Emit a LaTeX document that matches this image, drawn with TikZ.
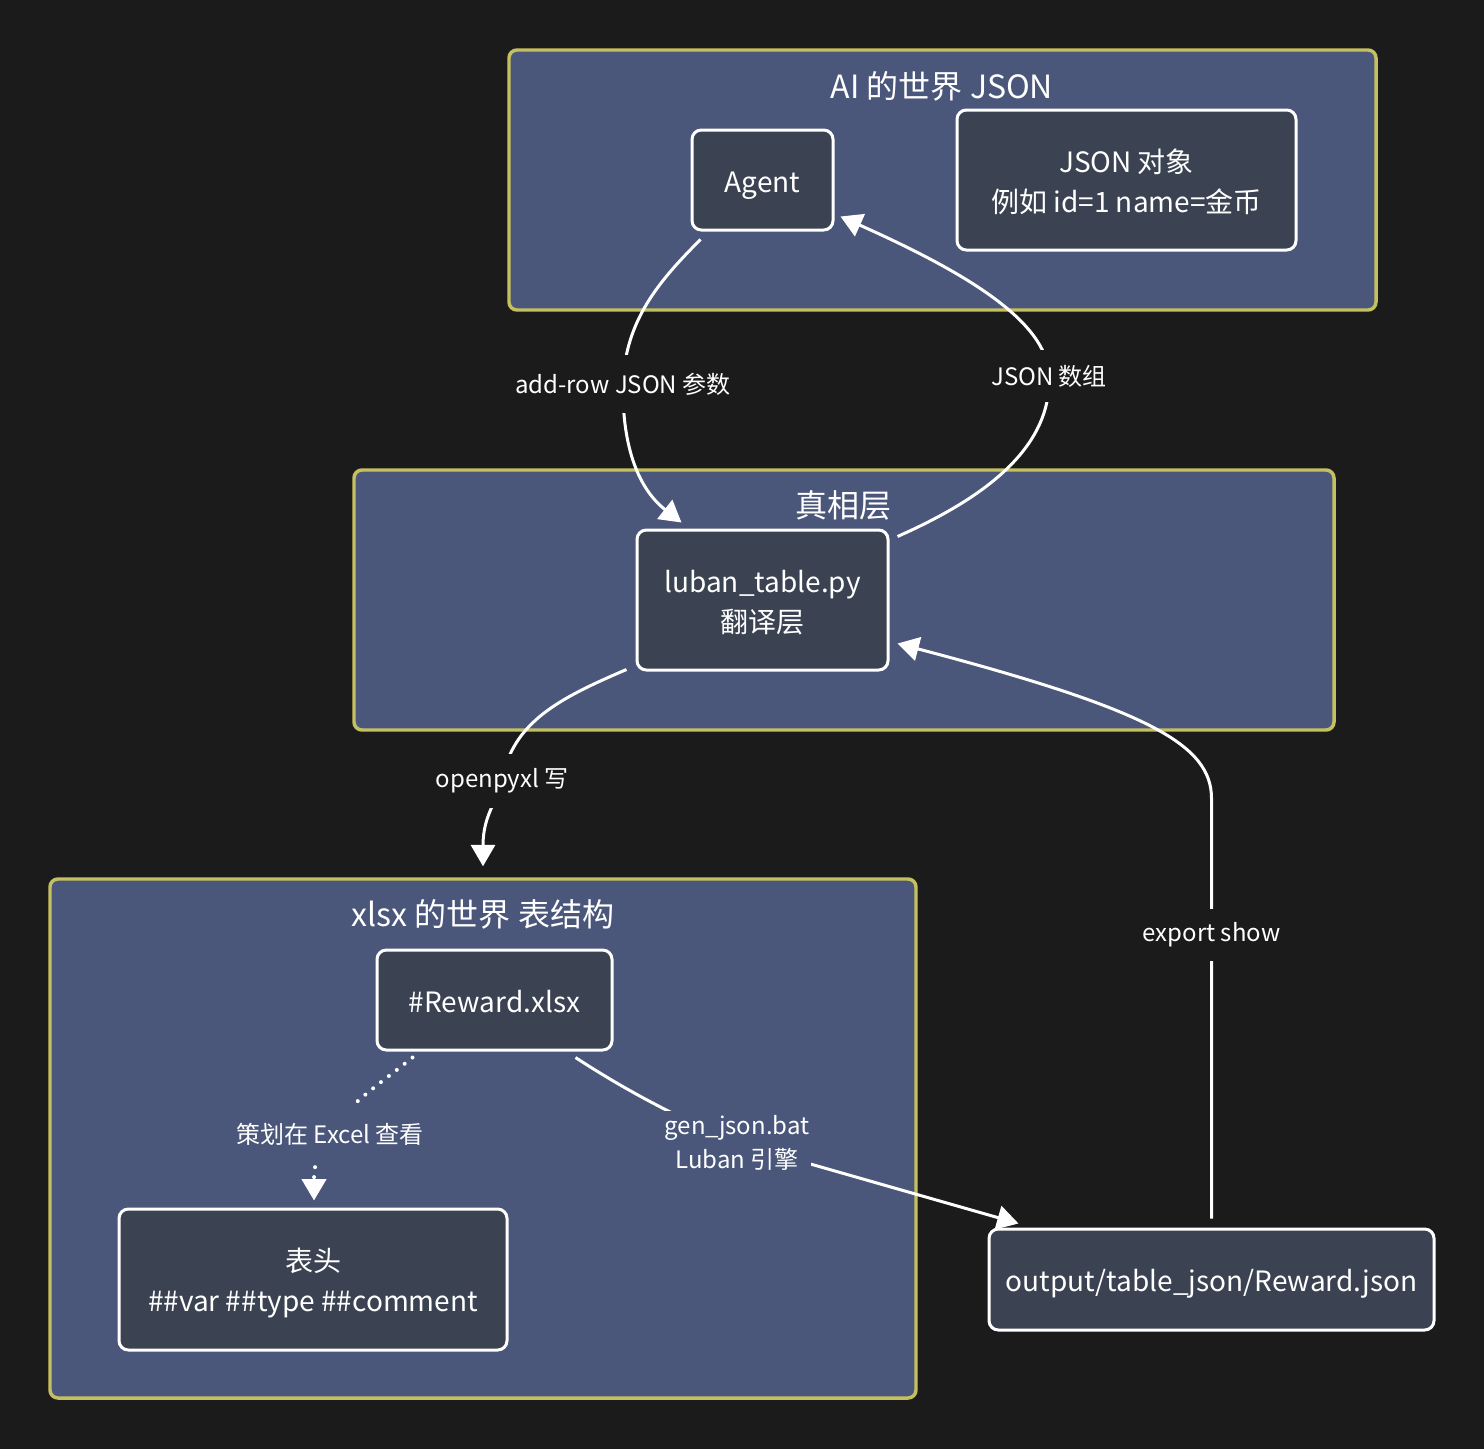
\documentclass[tikz,border=0pt]{standalone}
\usepackage{fontspec}
\setmainfont{Noto Sans CJK SC}
\usetikzlibrary{arrows.meta}
\definecolor{bg}{RGB}{27,27,27}
\definecolor{clfill}{RGB}{74,86,122}
\definecolor{clborder}{RGB}{196,192,96}
\definecolor{nodefill}{RGB}{59,67,82}
\newcommand{\boxtext}[1]{\raisebox{-3pt}[\height][\depth]{\begin{tabular}{@{}c@{}}#1\end{tabular}}}
\begin{document}
\begin{tikzpicture}[x=0.75pt,y=-0.75pt,
 cluster/.style={draw=clborder, fill=clfill, line width=2.6pt, rounded corners=6pt, inner sep=0pt},
 box/.style={draw=white, fill=nodefill, line width=2.25pt, rounded corners=7pt, text=white, align=center, inner sep=0pt, font=\fontsize{21}{30}\selectfont},
 title/.style={text=white, font=\fontsize{24}{28}\selectfont, inner sep=0pt},
 lbl/.style={text=white, align=center, font=\fontsize{18}{25.5}\selectfont, inner xsep=1pt},
 edge/.style={draw=white, line width=2.25pt, -{Triangle[length=16pt,width=18pt]}},
 dotline/.style={dash pattern=on 0pt off 7.5pt, line cap=round, line width=3pt},
]
\path[fill=bg] (0,0) rectangle (1484,1449);
\useasboundingbox (0,0) rectangle (1484,1449);

% clusters
\node[cluster, minimum width=650.25pt, minimum height=195pt] (clAI) at (942.5,180) {};
\node[cluster, minimum width=735pt, minimum height=195pt] (clTruth) at (844,600) {};
\node[cluster, minimum width=649.5pt, minimum height=389.25pt] (clXlsx) at (483,1138.5) {};

\node[title] (tAI) at (942,86) {AI 的世界 JSON};
\node[title] (tTruth) at (843,505) {真相层};
\node[title] (tXlsx) at (483,914) {xlsx 的世界 表结构};

% nodes
\node[box, minimum width=105.75pt, minimum height=75pt] (agent) at (762.5,180) {\boxtext{Agent}};
\node[box, minimum width=254.25pt, minimum height=105pt] (jsonobj) at (1126.5,180) {\boxtext{JSON 对象\\例如 id=1 name=金币}};
\node[box, minimum width=188.25pt, minimum height=105pt] (luban) at (762.5,600) {\boxtext{luban\_table.py\\翻译层}};
\node[box, minimum width=176.25pt, minimum height=75pt] (reward) at (494.5,1000) {\boxtext{\#Reward.xlsx}};
\node[box, minimum width=291pt, minimum height=105.75pt] (header) at (313,1279.5) {\boxtext{表头\\\#\#var \#\#type \#\#comment}};
\node[box, minimum width=333.75pt, minimum height=75.75pt] (output) at (1211.5,1279.5) {\boxtext{output/table\_json/Reward.json}};

% label positions
\coordinate (cA) at (623,384);
\coordinate (cB) at (1049,376);
\coordinate (cC) at (502,781);
\coordinate (cD) at (1211.5,935);
\coordinate (cE) at (737,1143);
\coordinate (cF) at (330,1134);

% edges
\draw[edge] ([shift={(10,8)}]agent.south west) .. controls (660,280) and (625,320) .. (cA)
  .. controls (622,450) and (640,490) .. ([shift={(46,-6)}]luban.north west);
\draw[edge] ([shift={(8,8)}]luban.north east) .. controls (980,500) and (1052,450) .. (cB)
  .. controls (1048,320) and (960,270) .. ([shift={(6,-15)}]agent.south east);
\draw[edge] ([shift={(-9,-2)}]luban.south west) .. controls (560,698) and (512,722) .. (cC)
  .. controls (497,802) and (483,815) .. ([shift={(0,-11)}]clXlsx.north);
\draw[edge] ([shift={(0,-9)}]output.north) -- ++(0,-420)
  .. controls (1211.5,745) and (1150,710) .. ([shift={(8,-28)}]luban.south east);
\draw[edge] ([shift={(-38,6)}]reward.south east) .. controls (610,1080) and (660,1110) .. (cE)
  -- ([shift={(31,-4)}]output.north west);
\draw[edge, dotline] ([shift={(37,6)}]reward.south west) .. controls (385,1080) and (340,1110) .. (cF)
  .. controls (320,1150) and (314,1160) .. ([shift={(1,-7)}]header.north);

% labels
\node[lbl, fill=bg, minimum height=43.5pt] (lA) at (cA) {add-row JSON 参数};
\node[lbl, fill=bg, minimum height=39pt] (lB) at (cB) {JSON 数组};
\node[lbl, fill=bg, minimum height=40pt] (lC) at (cC) {openpyxl 写};
\node[lbl, fill=bg, minimum height=39pt] (lD) at (cD) {export show};
\node[lbl, fill=clfill, minimum height=42pt] (lF) at (cF) {策划在 Excel 查看};
\node[lbl, fill=clfill] (lE) at (cE) {gen\_json.bat\\Luban 引擎};
\end{tikzpicture}
\end{document}
